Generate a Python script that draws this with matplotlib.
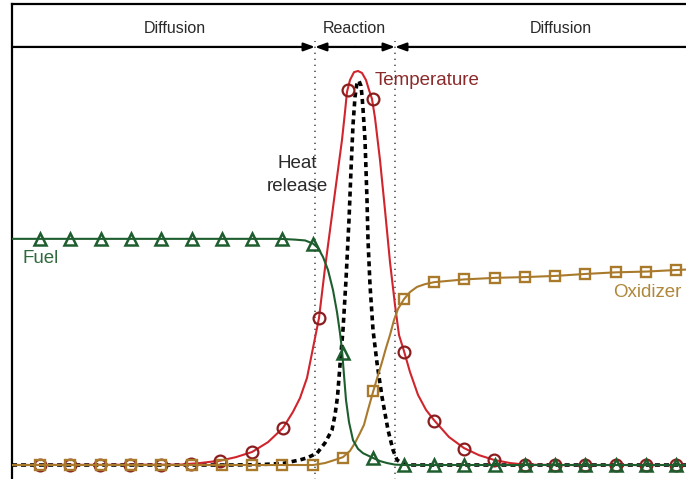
import matplotlib
matplotlib.use("Agg")
import matplotlib.pyplot as plt
from matplotlib.patches import FancyArrowPatch

plt.rcParams['font.family'] = ['Liberation Sans', 'DejaVu Sans']

# Position across the flame (arbitrary length units), profiles normalised to peak temperature
marker_x = [28, 58, 89, 119, 149, 180, 210, 240, 270, 301, 331,
            361, 392, 422, 452, 483, 513, 543, 573, 604, 634, 664]

fuel_x = [0, 268, 283, 293, 301, 306, 311, 316, 321, 325, 328, 330, 332,
          334, 337, 341, 346, 351, 356, 361, 368, 375, 383, 393, 674]
fuel_y = [0.574, 0.574, 0.572, 0.570, 0.562, 0.551, 0.528, 0.495, 0.444,
          0.388, 0.335, 0.292, 0.228, 0.165, 0.109, 0.063, 0.041, 0.030,
          0.024, 0.018, 0.010, 0.005, 0.001, 0.0, 0.0]
fuel_marks = [0.574, 0.574, 0.574, 0.574, 0.574, 0.574, 0.574, 0.574, 0.574,
              0.562, 0.284, 0.018, 0, 0, 0, 0, 0, 0, 0, 0, 0, 0]

temp_x = [0, 168, 188, 208, 224, 240, 256, 271, 281, 288, 295, 301, 307, 313,
          318, 324, 330, 333, 335, 338, 342, 346, 350, 354, 357, 360, 363, 368,
          373, 378, 383, 387, 392, 398, 406, 414, 422, 437, 452, 467, 482, 498,
          513, 543, 674]
temp_y = [0.0, 0.001, 0.005, 0.011, 0.020, 0.033, 0.058, 0.094, 0.135, 0.170,
          0.221, 0.297, 0.373, 0.500, 0.596, 0.711, 0.825, 0.896, 0.947, 0.977,
          0.997, 1.0, 0.995, 0.977, 0.952, 0.929, 0.881, 0.774, 0.647, 0.515,
          0.406, 0.330, 0.289, 0.236, 0.178, 0.140, 0.114, 0.071, 0.043, 0.025,
          0.013, 0.005, 0.001, 0.0, 0.0]
temp_mark_x = [28, 58, 88, 118, 149, 179, 208, 240, 271, 307, 335.5,
               360.5, 392, 422, 452, 482, 513, 543, 573, 604, 634, 664]
temp_marks = [0, 0, 0, 0, 0, 0.003, 0.011, 0.033, 0.094, 0.373, 0.952,
              0.929, 0.287, 0.112, 0.041, 0.013, 0.001, 0, 0, 0, 0, 0]

heat_x = [0, 218, 248, 271, 288, 295, 305, 313, 320, 323, 325.5, 328, 331,
          334, 337, 339, 341, 343, 345, 347, 349, 350, 351, 353, 354, 355,
          356, 358, 361, 365, 370, 376, 381, 385, 390, 398, 674]
heat_y = [0.0, 0.0, 0.001, 0.004, 0.013, 0.018, 0.030, 0.056, 0.089, 0.127,
          0.173, 0.254, 0.343, 0.470, 0.622, 0.749, 0.863, 0.934, 0.970,
          0.975, 0.962, 0.937, 0.904, 0.825, 0.749, 0.673, 0.571, 0.457,
          0.343, 0.259, 0.173, 0.089, 0.038, 0.013, 0.004, 0.0, 0.0]

oxid_x = [0, 278, 301, 313, 323, 331, 338, 343, 348, 352, 356, 361, 366, 370,
          374, 378, 382, 386, 392, 398, 405, 413, 422, 452, 483, 514, 544,
          574, 604, 635, 665, 674]
oxid_y = [0.0, 0.0, 0.0, 0.005, 0.013, 0.020, 0.036, 0.056, 0.081, 0.102,
          0.140, 0.185, 0.228, 0.261, 0.297, 0.330, 0.368, 0.396, 0.421,
          0.439, 0.452, 0.459, 0.464, 0.471, 0.475, 0.477, 0.480, 0.485,
          0.489, 0.491, 0.495, 0.496]
oxid_marks = [0, 0, 0, 0, 0, 0, 0, 0, 0, 0, 0.019, 0.188, 0.421, 0.464,
              0.471, 0.475, 0.477, 0.480, 0.485, 0.489, 0.491, 0.495]

# Zone boundaries and labels
zone_edges = [303, 383]
zone_names = ["Diffusion", "Reaction", "Diffusion"]
zone_label_x = [163, 342, 549]

GREEN = "#1e5e2e"
RED = "#d0252d"
DARKRED = "#8a1d1d"
GOLD = "#a97a2c"

fig = plt.figure(figsize=(6.86, 4.79), dpi=100)
ax = fig.add_axes([12 / 686, 0.0, 1 - 12 / 686, 1 - 4 / 479])
ax.set_xlim(0, 674)
ax.set_ylim(-0.0355, 1.170)
ax.set_xticks([])
ax.set_yticks([])
for side in ("right", "bottom"):
    ax.spines[side].set_visible(False)
for side in ("left", "top"):
    ax.spines[side].set_linewidth(1.6)

# Zone dividers
for xe in zone_edges:
    ax.plot([xe, xe], [-0.05, 1.075], color="#555555", lw=1.2,
            linestyle=(0, (0.8, 2.8)), zorder=1)

# Heat release
ax.plot(heat_x, heat_y, color="black", lw=2.6, linestyle=(0, (1.4, 1.1)),
        zorder=2)

# Temperature
ax.plot(temp_x, temp_y, color=RED, lw=1.5, zorder=3)
ax.plot(temp_mark_x, temp_marks, linestyle="none", marker="o", ms=8.5,
        mfc="none", mec=DARKRED, mew=1.6, zorder=3)

# Oxidizer
ax.plot(oxid_x, oxid_y, color=GOLD, lw=1.5, zorder=4)
ax.plot(marker_x, oxid_marks, linestyle="none", marker="s", ms=7.5,
        mfc="none", mec=GOLD, mew=1.7, zorder=4)

# Fuel
ax.plot(fuel_x, fuel_y, color=GREEN, lw=1.5, zorder=5)
ax.plot(marker_x, fuel_marks, linestyle="none", marker="^", ms=8,
        mfc="none", mec=GREEN, mew=1.8, zorder=5)

# Zone arrows
arrow_y = 1.061
style = "-|>,head_length=0.6,head_width=0.22"


def zone_arrow(start, tip):
    ax.add_patch(FancyArrowPatch((start, arrow_y), (tip, arrow_y),
                                 arrowstyle=style, mutation_scale=11,
                                 color="black", lw=1.6, shrinkA=0, shrinkB=0,
                                 clip_on=False))


zone_arrow(0, zone_edges[0])
mid = (zone_edges[0] + zone_edges[1]) / 2
zone_arrow(mid, zone_edges[0])
zone_arrow(mid, zone_edges[1])
zone_arrow(700, zone_edges[1])

for name, lx in zip(zone_names, zone_label_x):
    ax.text(lx, 1.107, name, ha="center", va="center", fontsize=11.5,
            color="#2a2a2a")

ax.text(363, 0.977, "Temperature", ha="left", va="center", fontsize=13.5,
        color="#8b2a2a")
ax.text(285, 0.736, "Heat\nrelease", ha="center", va="center", fontsize=13.5,
        color="#2a2a2a", linespacing=1.45)
ax.text(10, 0.525, "Fuel", ha="left", va="center", fontsize=13.5,
        color="#2f6a3c")
ax.text(601, 0.437, "Oxidizer", ha="left", va="center", fontsize=13.5,
        color="#b0873a")

fig.savefig("out.png", dpi=100)
